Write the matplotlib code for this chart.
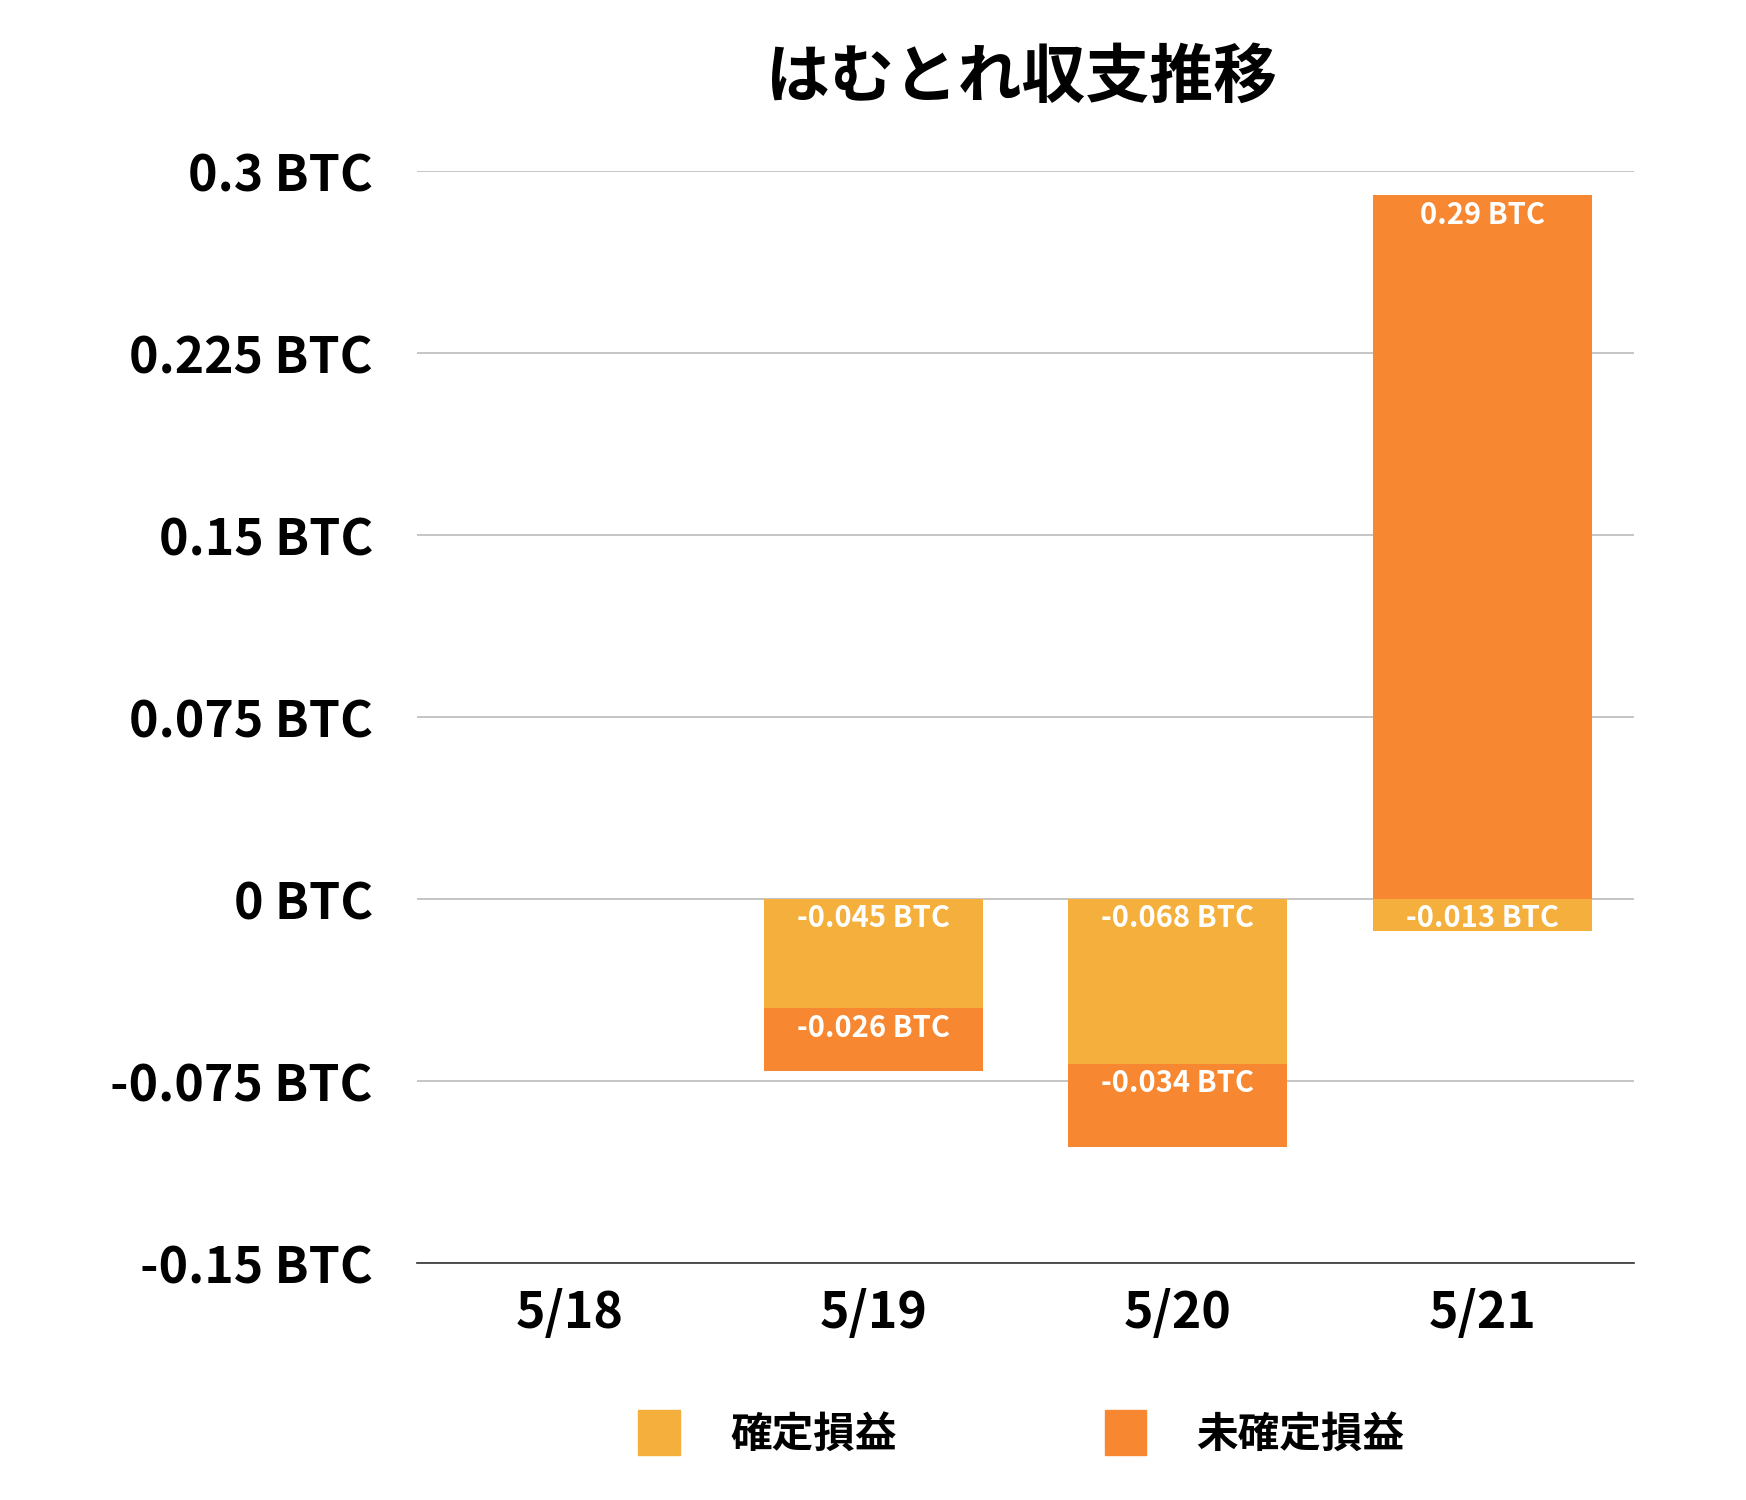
import matplotlib.pyplot as plt
import numpy as np
from matplotlib.patches import Patch

plt.rcParams['font.family'] = ['Noto Sans CJK JP', 'DejaVu Sans']

dates = ["5/18", "5/19", "5/20", "5/21"]
realized = [0.0, -0.045, -0.068, -0.013]
unrealized = [0.0, -0.026, -0.034, 0.29]
yticks = [-0.15, -0.075, 0, 0.075, 0.15, 0.225, 0.3]
ytick_labels = ["-0.15 BTC", "-0.075 BTC", "0 BTC", "0.075 BTC", "0.15 BTC", "0.225 BTC", "0.3 BTC"]

C_REAL = "#F4AF3D"
C_UNREAL = "#F78731"

fig = plt.figure(figsize=(17.46, 15), dpi=100)
ax = fig.add_axes([0.239, 0.158, 0.697, 0.728])
x = np.arange(len(dates))
w = 0.72

r = np.array(realized)
u = np.array(unrealized)
# unrealized stacks on the realized part when same sign, else from zero
u_bottom = np.where(np.sign(u) == np.sign(r), r, 0)

ax.bar(x, r, w, color=C_REAL, zorder=3)
ax.bar(x, u, w, bottom=u_bottom, color=C_UNREAL, zorder=3)

def fmt(v):
    return f"{v:g} BTC"

for i in range(len(dates)):
    for val, bot in ((realized[i], 0), (unrealized[i], u_bottom[i])):
        if val == 0:
            continue
        if val < 0:
            y = bot - 0.008
        else:
            y = bot + val - 0.008
        ax.text(x[i], y, fmt(val), ha="center", va="center", color="white",
                fontsize=21, fontweight="bold", zorder=4)

ax.set_xlim(-0.5, 3.5)
ax.set_ylim(-0.15, 0.3)
ax.set_yticks(yticks)
ax.set_yticklabels(ytick_labels)
ax.set_xticks(x)
ax.set_xticklabels(dates)
ax.tick_params(axis="y", length=0, labelsize=36, pad=32)
ax.tick_params(axis="x", length=0, labelsize=36, pad=18)
for t in ax.get_xticklabels() + ax.get_yticklabels():
    t.set_fontweight("bold")
ax.grid(axis="y", color="#bbbbbb", linewidth=1.2, zorder=0)
for s in ["top", "right", "left"]:
    ax.spines[s].set_visible(False)
ax.spines["bottom"].set_color("#333333")
ax.spines["bottom"].set_linewidth(1.2)

fig.text(0.585, 0.948, "はむとれ収支推移", ha="center", va="center",
         fontsize=46, fontweight="bold")

handles = [Patch(color=C_REAL, label="確定損益"), Patch(color=C_UNREAL, label="未確定損益")]
fig.legend(handles=handles, loc="center", bbox_to_anchor=(0.585, 0.045), ncol=2,
           frameon=False, prop={"size": 30, "weight": "bold"},
           handlelength=1.0, handleheight=1.3, columnspacing=5, handletextpad=1.2)

fig.savefig("out.png", dpi=100)
